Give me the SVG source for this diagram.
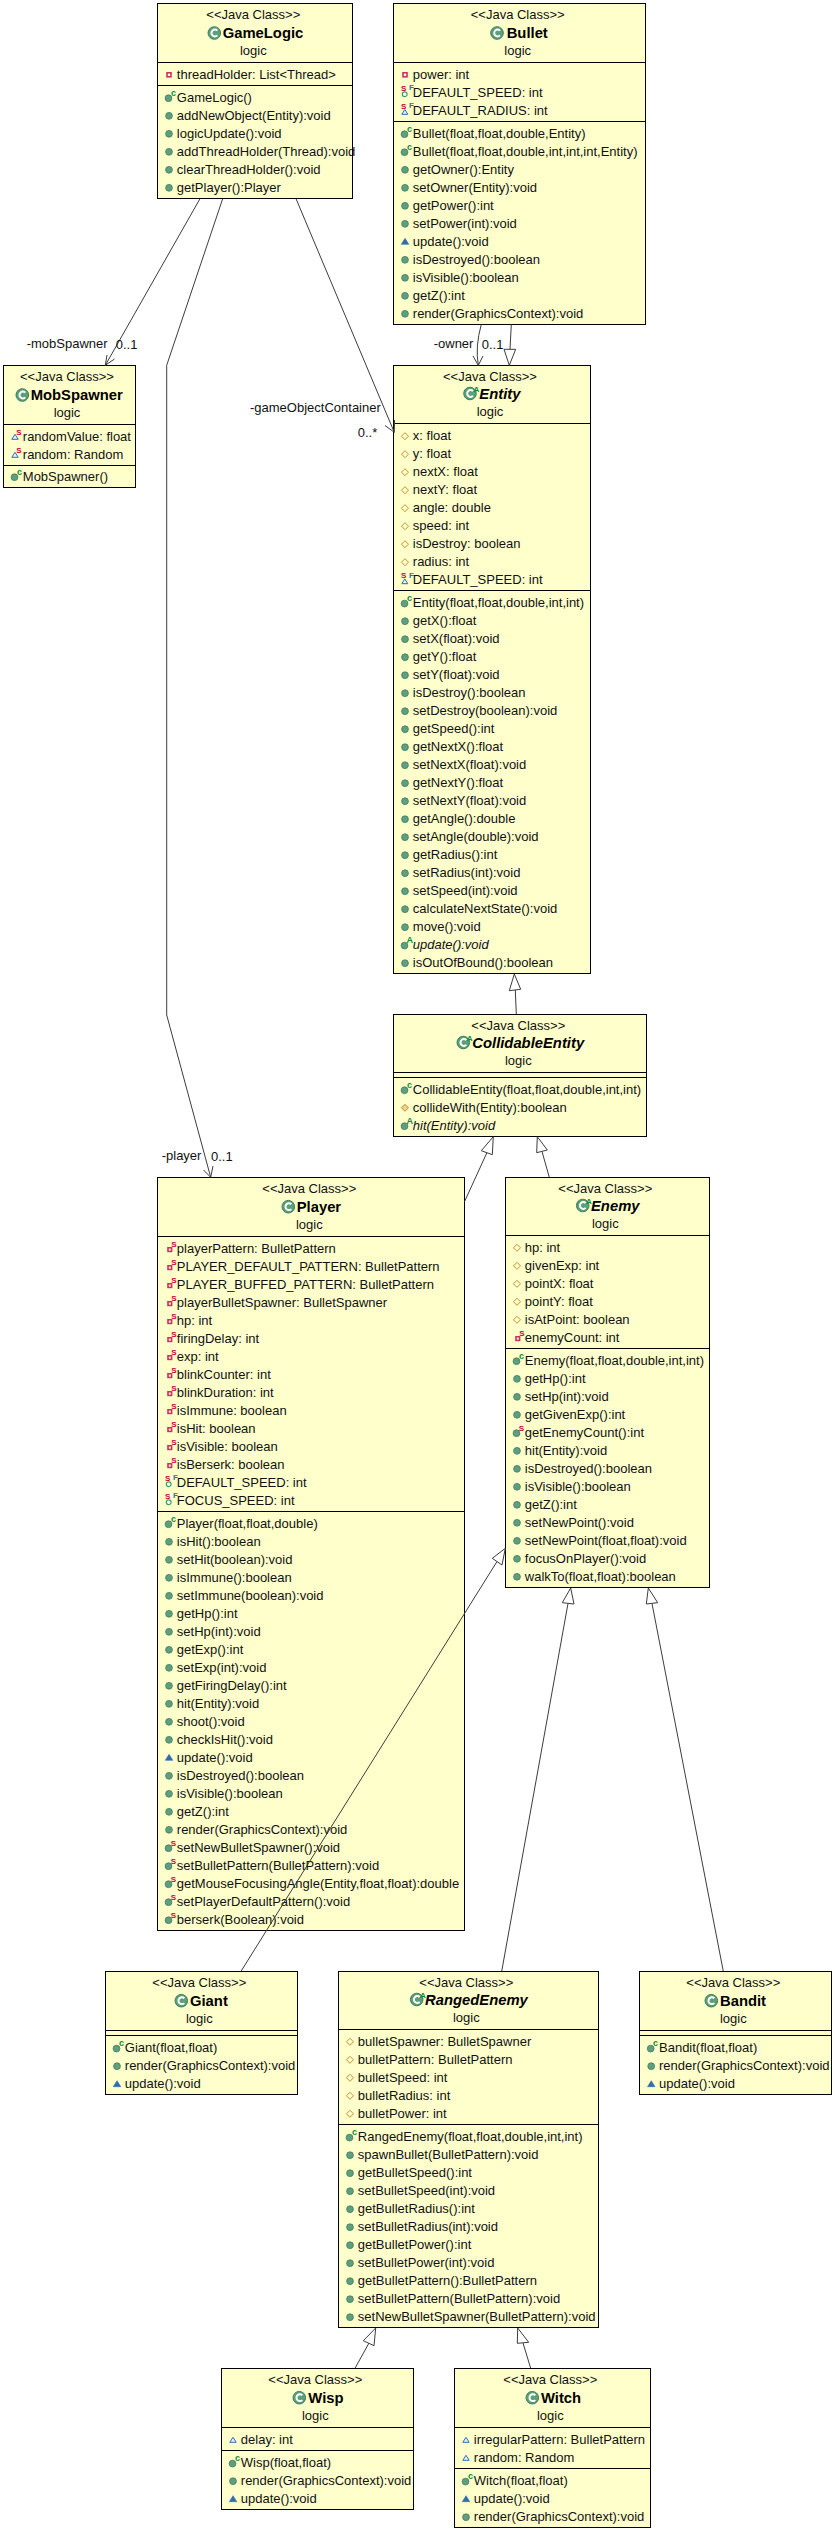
<svg xmlns="http://www.w3.org/2000/svg" width="835" height="2531" viewBox="0 0 835 2531">
<style>
text{font-family:"Liberation Sans",Arial,sans-serif;font-size:13px;fill:#111}
.c{text-anchor:middle}
.t{font-weight:bold;font-size:14.8px;fill:#000}
.a{font-style:italic}
.i{font-weight:bold;font-style:italic}
.box{fill:#ffffcc;stroke:#000;stroke-width:1}
.div{stroke:#000;stroke-width:1;fill:none}
.edge{fill:none;stroke:#3c3c3c;stroke-width:1}
.hd{fill:#fff;stroke:#3c3c3c;stroke-width:1}
.s{font-size:8px;fill:#c8003c;font-weight:bold}
.f{font-size:8px;fill:#3070b0;font-weight:bold}
.k{font-size:9px;fill:#0a8a3c;font-weight:bold}
.m{fill:#5f9f7f;stroke:#3f7f5f;stroke-width:.8}
.pr{fill:#fff;stroke:#d0305a;stroke-width:1.6}
.pt{fill:none;stroke:#c09030;stroke-width:1}
.pk{fill:#e8f0ff;stroke:#2f6cb0;stroke-width:1}
.pm{fill:#2f6cb0;stroke:#2f6cb0;stroke-width:.6}
.cg{fill:#5c9f78;stroke:#3f7f5f}
.cw{fill:none;stroke:#fff;stroke-width:2}
</style>
<defs>
<g id="pub"><circle class="m" cx="11.7" cy="-4" r="3.4"/></g>
<g id="ctor"><circle class="m" cx="11.2" cy="-3.6" r="3.4"/><text class="k" x="13.6" y="-6">c</text></g>
<g id="smeth"><circle class="m" cx="11.2" cy="-3.6" r="3.4"/><text class="s" x="13.4" y="-6" style="fill:#c8003c">S</text></g>
<g id="ameth"><circle class="m" cx="11.2" cy="-3.6" r="3.4"/><text class="k" x="13.2" y="-6">A</text></g>
<g id="pkm"><path class="pm" d="M8 -1.5h7.5l-3.75 -6z"/></g>
<g id="pri"><rect class="pr" x="9.7" y="-6" width="4" height="4"/></g>
<g id="spri"><rect class="pr" x="10.7" y="-5" width="3.6" height="3.6"/><text class="s" x="14" y="-6">S</text></g>
<g id="pro"><path class="pt" d="M11.7 -7.5l3.5 3.5-3.5 3.5-3.5-3.5z"/></g>
<g id="prom"><path d="M11.7 -7.5l3.5 3.5-3.5 3.5-3.5-3.5z" fill="#f0d090" stroke="#c09030"/></g>
<g id="pk"><path class="pk" d="M8.5 -1.5h6.4l-3.2 -5z"/></g>
<g id="spk"><path class="pk" d="M8.5 -1.5h6.4l-3.2 -5z"/><text class="s" x="13" y="-6">S</text></g>
<g id="sfp"><circle cx="11.4" cy="-2.6" r="2.4" fill="#fff" stroke="#3f9f5f" stroke-width="1.2"/><text class="s" x="7.6" y="-6">S</text><text class="f" x="15.6" y="-6.5">F</text></g>
<g id="sfk"><path class="pk" d="M8.5 -.5h6l-3 -4.8z"/><text class="s" x="7.6" y="-6">S</text><text class="f" x="15.6" y="-6.5">F</text></g>
<g id="cls"><circle class="cg" r="6.3"/><path class="cw" d="M3 -2.4A3.4 3.4 0 1 0 3 2.4"/></g>
<g id="acls"><circle class="cg" r="6.3"/><path class="cw" d="M3 -2.4A3.4 3.4 0 1 0 3 2.4"/><text class="k" x="3.4" y="-1.5" style="font-size:8px">A</text></g>
</defs>

<g id="GameLogic">
<rect class="box" x="157.5" y="3.5" width="195" height="195"/>
<path class="div" d="M157.5 62.5H352.5M157.5 85.5H352.5"/>
<text class="c" x="253.3" y="19">&lt;&lt;Java Class&gt;&gt;</text>
<use href="#cls" x="214.3" y="33"/><text class="t" x="222.7" y="38">GameLogic</text>
<text class="c" x="253.3" y="55">logic</text>
<g transform="translate(157.3,78.8)"><use href="#pri"/><text x="19.5">threadHolder: List&lt;Thread&gt;</text></g>
<g transform="translate(157.3,101.8)">
<use href="#ctor"/><text x="19.5">GameLogic()</text>
<use href="#pub" y="18"/><text x="19.5" y="18">addNewObject(Entity):void</text>
<use href="#pub" y="36"/><text x="19.5" y="36">logicUpdate():void</text>
<use href="#pub" y="54"/><text x="19.5" y="54">addThreadHolder(Thread):void</text>
<use href="#pub" y="72"/><text x="19.5" y="72">clearThreadHolder():void</text>
<use href="#pub" y="90"/><text x="19.5" y="90">getPlayer():Player</text>
</g>
</g>

<g id="Bullet">
<rect class="box" x="393.5" y="3.5" width="252" height="321"/>
<path class="div" d="M393.5 62.5H645.5M393.5 121.5H645.5"/>
<text class="c" x="517.7" y="19">&lt;&lt;Java Class&gt;&gt;</text>
<use href="#cls" x="497" y="33"/><text class="t" x="506.7" y="38">Bullet</text>
<text class="c" x="517.7" y="55">logic</text>
<g transform="translate(393.3,78.8)">
<use href="#pri"/><text x="19.5">power: int</text>
<use href="#sfp" y="18"/><text x="19.5" y="18">DEFAULT_SPEED: int</text>
<use href="#sfk" y="36"/><text x="19.5" y="36">DEFAULT_RADIUS: int</text>
</g>
<g transform="translate(393.3,137.8)">
<use href="#ctor"/><text x="19.5">Bullet(float,float,double,Entity)</text>
<use href="#ctor" y="18"/><text x="19.5" y="18">Bullet(float,float,double,int,int,int,Entity)</text>
<use href="#pub" y="36"/><text x="19.5" y="36">getOwner():Entity</text>
<use href="#pub" y="54"/><text x="19.5" y="54">setOwner(Entity):void</text>
<use href="#pub" y="72"/><text x="19.5" y="72">getPower():int</text>
<use href="#pub" y="90"/><text x="19.5" y="90">setPower(int):void</text>
<use href="#pkm" y="108"/><text x="19.5" y="108">update():void</text>
<use href="#pub" y="126"/><text x="19.5" y="126">isDestroyed():boolean</text>
<use href="#pub" y="144"/><text x="19.5" y="144">isVisible():boolean</text>
<use href="#pub" y="162"/><text x="19.5" y="162">getZ():int</text>
<use href="#pub" y="180"/><text x="19.5" y="180">render(GraphicsContext):void</text>
</g>
</g>

<g id="MobSpawner">
<rect class="box" x="3.5" y="365.5" width="132" height="122"/>
<path class="div" d="M3.5 424.5H135.5M3.5 465.5H135.5"/>
<text class="c" x="67" y="381">&lt;&lt;Java Class&gt;&gt;</text>
<use href="#cls" x="22.3" y="395"/><text class="t" x="30.7" y="400">MobSpawner</text>
<text class="c" x="67" y="417">logic</text>
<g transform="translate(3.3,440.8)">
<use href="#spk"/><text x="19.5">randomValue: float</text>
<use href="#spk" y="18"/><text x="19.5" y="18">random: Random</text>
</g>
<g transform="translate(3.3,480.8)"><use href="#ctor"/><text x="19.5">MobSpawner()</text></g>
</g>

<g id="Entity">
<rect class="box" x="393.5" y="365.5" width="197" height="608"/>
<path class="div" d="M393.5 423.5H590.5M393.5 590.5H590.5"/>
<text class="c" x="490" y="381">&lt;&lt;Java Class&gt;&gt;</text>
<use href="#acls" x="470" y="393.5"/><text class="i t" x="479.3" y="398.5">Entity</text>
<text class="c" x="490" y="416">logic</text>
<g transform="translate(393.3,440.2)">
<use href="#pro"/><text x="19.5">x: float</text>
<use href="#pro" y="18"/><text x="19.5" y="18">y: float</text>
<use href="#pro" y="36"/><text x="19.5" y="36">nextX: float</text>
<use href="#pro" y="54"/><text x="19.5" y="54">nextY: float</text>
<use href="#pro" y="72"/><text x="19.5" y="72">angle: double</text>
<use href="#pro" y="90"/><text x="19.5" y="90">speed: int</text>
<use href="#pro" y="108"/><text x="19.5" y="108">isDestroy: boolean</text>
<use href="#pro" y="126"/><text x="19.5" y="126">radius: int</text>
<use href="#sfk" y="144"/><text x="19.5" y="144">DEFAULT_SPEED: int</text>
</g>
<g transform="translate(393.3,607.2)">
<use href="#ctor"/><text x="19.5">Entity(float,float,double,int,int)</text>
<use href="#pub" y="18"/><text x="19.5" y="18">getX():float</text>
<use href="#pub" y="36"/><text x="19.5" y="36">setX(float):void</text>
<use href="#pub" y="54"/><text x="19.5" y="54">getY():float</text>
<use href="#pub" y="72"/><text x="19.5" y="72">setY(float):void</text>
<use href="#pub" y="90"/><text x="19.5" y="90">isDestroy():boolean</text>
<use href="#pub" y="108"/><text x="19.5" y="108">setDestroy(boolean):void</text>
<use href="#pub" y="126"/><text x="19.5" y="126">getSpeed():int</text>
<use href="#pub" y="144"/><text x="19.5" y="144">getNextX():float</text>
<use href="#pub" y="162"/><text x="19.5" y="162">setNextX(float):void</text>
<use href="#pub" y="180"/><text x="19.5" y="180">getNextY():float</text>
<use href="#pub" y="198"/><text x="19.5" y="198">setNextY(float):void</text>
<use href="#pub" y="216"/><text x="19.5" y="216">getAngle():double</text>
<use href="#pub" y="234"/><text x="19.5" y="234">setAngle(double):void</text>
<use href="#pub" y="252"/><text x="19.5" y="252">getRadius():int</text>
<use href="#pub" y="270"/><text x="19.5" y="270">setRadius(int):void</text>
<use href="#pub" y="288"/><text x="19.5" y="288">setSpeed(int):void</text>
<use href="#pub" y="306"/><text x="19.5" y="306">calculateNextState():void</text>
<use href="#pub" y="324"/><text x="19.5" y="324">move():void</text>
<use href="#ameth" y="342"/><text class="a" x="19.5" y="342">update():void</text>
<use href="#pub" y="360"/><text x="19.5" y="360">isOutOfBound():boolean</text>
</g>
</g>

<g id="CollidableEntity">
<rect class="box" x="393.5" y="1014.5" width="253" height="122"/>
<path class="div" d="M393.5 1072.5H646.5M393.5 1077.5H646.5"/>
<text class="c" x="518.3" y="1030">&lt;&lt;Java Class&gt;&gt;</text>
<use href="#acls" x="463.3" y="1042.5"/><text class="i t" x="472.3" y="1047.5">CollidableEntity</text>
<text class="c" x="518.3" y="1065">logic</text>
<g transform="translate(393.3,1093.8)">
<use href="#ctor"/><text x="19.5">CollidableEntity(float,float,double,int,int)</text>
<use href="#prom" y="18"/><text x="19.5" y="18">collideWith(Entity):boolean</text>
<use href="#ameth" y="36"/><text class="a" x="19.5" y="36">hit(Entity):void</text>
</g>
</g>

<g id="Player">
<rect class="box" x="157.5" y="1177.5" width="307" height="753"/>
<path class="div" d="M157.5 1236.5H464.5M157.5 1511.5H464.5"/>
<text class="c" x="309.3" y="1193">&lt;&lt;Java Class&gt;&gt;</text>
<use href="#cls" x="288.3" y="1206.7"/><text class="t" x="296.7" y="1212">Player</text>
<text class="c" x="309.3" y="1229">logic</text>
<g transform="translate(157.3,1252.8)">
<use href="#spri"/><text x="19.5">playerPattern: BulletPattern</text>
<use href="#spri" y="18"/><text x="19.5" y="18">PLAYER_DEFAULT_PATTERN: BulletPattern</text>
<use href="#spri" y="36"/><text x="19.5" y="36">PLAYER_BUFFED_PATTERN: BulletPattern</text>
<use href="#spri" y="54"/><text x="19.5" y="54">playerBulletSpawner: BulletSpawner</text>
<use href="#spri" y="72"/><text x="19.5" y="72">hp: int</text>
<use href="#spri" y="90"/><text x="19.5" y="90">firingDelay: int</text>
<use href="#spri" y="108"/><text x="19.5" y="108">exp: int</text>
<use href="#spri" y="126"/><text x="19.5" y="126">blinkCounter: int</text>
<use href="#spri" y="144"/><text x="19.5" y="144">blinkDuration: int</text>
<use href="#spri" y="162"/><text x="19.5" y="162">isImmune: boolean</text>
<use href="#spri" y="180"/><text x="19.5" y="180">isHit: boolean</text>
<use href="#spri" y="198"/><text x="19.5" y="198">isVisible: boolean</text>
<use href="#spri" y="216"/><text x="19.5" y="216">isBerserk: boolean</text>
<use href="#sfp" y="234"/><text x="19.5" y="234">DEFAULT_SPEED: int</text>
<use href="#sfp" y="252"/><text x="19.5" y="252">FOCUS_SPEED: int</text>
</g>
<g transform="translate(157.3,1527.8)">
<use href="#ctor"/><text x="19.5">Player(float,float,double)</text>
<use href="#pub" y="18"/><text x="19.5" y="18">isHit():boolean</text>
<use href="#pub" y="36"/><text x="19.5" y="36">setHit(boolean):void</text>
<use href="#pub" y="54"/><text x="19.5" y="54">isImmune():boolean</text>
<use href="#pub" y="72"/><text x="19.5" y="72">setImmune(boolean):void</text>
<use href="#pub" y="90"/><text x="19.5" y="90">getHp():int</text>
<use href="#pub" y="108"/><text x="19.5" y="108">setHp(int):void</text>
<use href="#pub" y="126"/><text x="19.5" y="126">getExp():int</text>
<use href="#pub" y="144"/><text x="19.5" y="144">setExp(int):void</text>
<use href="#pub" y="162"/><text x="19.5" y="162">getFiringDelay():int</text>
<use href="#pub" y="180"/><text x="19.5" y="180">hit(Entity):void</text>
<use href="#pub" y="198"/><text x="19.5" y="198">shoot():void</text>
<use href="#pub" y="216"/><text x="19.5" y="216">checkIsHit():void</text>
<use href="#pkm" y="234"/><text x="19.5" y="234">update():void</text>
<use href="#pub" y="252"/><text x="19.5" y="252">isDestroyed():boolean</text>
<use href="#pub" y="270"/><text x="19.5" y="270">isVisible():boolean</text>
<use href="#pub" y="288"/><text x="19.5" y="288">getZ():int</text>
<use href="#pub" y="306"/><text x="19.5" y="306">render(GraphicsContext):void</text>
<use href="#smeth" y="324"/><text x="19.5" y="324">setNewBulletSpawner():void</text>
<use href="#smeth" y="342"/><text x="19.5" y="342">setBulletPattern(BulletPattern):void</text>
<use href="#smeth" y="360"/><text x="19.5" y="360">getMouseFocusingAngle(Entity,float,float):double</text>
<use href="#smeth" y="378"/><text x="19.5" y="378">setPlayerDefaultPattern():void</text>
<use href="#smeth" y="396"/><text x="19.5" y="396">berserk(Boolean):void</text>
</g>
</g>

<g id="Enemy">
<rect class="box" x="505.5" y="1177.5" width="204" height="410"/>
<path class="div" d="M505.5 1235.5H709.5M505.5 1348.5H709.5"/>
<text class="c" x="605.3" y="1193">&lt;&lt;Java Class&gt;&gt;</text>
<use href="#acls" x="582.7" y="1205.5"/><text class="i t" x="591" y="1210.5">Enemy</text>
<text class="c" x="605.3" y="1228">logic</text>
<g transform="translate(505.3,1251.8)">
<use href="#pro"/><text x="19.5">hp: int</text>
<use href="#pro" y="18"/><text x="19.5" y="18">givenExp: int</text>
<use href="#pro" y="36"/><text x="19.5" y="36">pointX: float</text>
<use href="#pro" y="54"/><text x="19.5" y="54">pointY: float</text>
<use href="#pro" y="72"/><text x="19.5" y="72">isAtPoint: boolean</text>
<use href="#spri" y="90"/><text x="19.5" y="90">enemyCount: int</text>
</g>
<g transform="translate(505.3,1364.8)">
<use href="#ctor"/><text x="19.5">Enemy(float,float,double,int,int)</text>
<use href="#pub" y="18"/><text x="19.5" y="18">getHp():int</text>
<use href="#pub" y="36"/><text x="19.5" y="36">setHp(int):void</text>
<use href="#pub" y="54"/><text x="19.5" y="54">getGivenExp():int</text>
<use href="#smeth" y="72"/><text x="19.5" y="72">getEnemyCount():int</text>
<use href="#pub" y="90"/><text x="19.5" y="90">hit(Entity):void</text>
<use href="#pub" y="108"/><text x="19.5" y="108">isDestroyed():boolean</text>
<use href="#pub" y="126"/><text x="19.5" y="126">isVisible():boolean</text>
<use href="#pub" y="144"/><text x="19.5" y="144">getZ():int</text>
<use href="#pub" y="162"/><text x="19.5" y="162">setNewPoint():void</text>
<use href="#pub" y="180"/><text x="19.5" y="180">setNewPoint(float,float):void</text>
<use href="#pub" y="198"/><text x="19.5" y="198">focusOnPlayer():void</text>
<use href="#pub" y="216"/><text x="19.5" y="216">walkTo(float,float):boolean</text>
</g>
</g>

<g id="Giant">
<rect class="box" x="105.5" y="1971.5" width="192" height="123"/>
<path class="div" d="M105.5 2030.5H297.5M105.5 2035.5H297.5"/>
<text class="c" x="199.3" y="1987">&lt;&lt;Java Class&gt;&gt;</text>
<use href="#cls" x="181.3" y="2000.7"/><text class="t" x="190" y="2006">Giant</text>
<text class="c" x="199.3" y="2023">logic</text>
<g transform="translate(105.3,2052.2)">
<use href="#ctor"/><text x="19.5">Giant(float,float)</text>
<use href="#pub" y="18"/><text x="19.5" y="18">render(GraphicsContext):void</text>
<use href="#pkm" y="36"/><text x="19.5" y="36">update():void</text>
</g>
</g>

<g id="RangedEnemy">
<rect class="box" x="338.5" y="1971.5" width="260" height="356"/>
<path class="div" d="M338.5 2029.5H598.5M338.5 2124.5H598.5"/>
<text class="c" x="466.3" y="1987">&lt;&lt;Java Class&gt;&gt;</text>
<use href="#acls" x="416.7" y="1999.5"/><text class="i t" x="425" y="2004.5">RangedEnemy</text>
<text class="c" x="466.3" y="2022">logic</text>
<g transform="translate(338.3,2045.8)">
<use href="#pro"/><text x="19.5">bulletSpawner: BulletSpawner</text>
<use href="#pro" y="18"/><text x="19.5" y="18">bulletPattern: BulletPattern</text>
<use href="#pro" y="36"/><text x="19.5" y="36">bulletSpeed: int</text>
<use href="#pro" y="54"/><text x="19.5" y="54">bulletRadius: int</text>
<use href="#pro" y="72"/><text x="19.5" y="72">bulletPower: int</text>
</g>
<g transform="translate(338.3,2141.2)">
<use href="#ctor"/><text x="19.5">RangedEnemy(float,float,double,int,int)</text>
<use href="#pub" y="18"/><text x="19.5" y="18">spawnBullet(BulletPattern):void</text>
<use href="#pub" y="36"/><text x="19.5" y="36">getBulletSpeed():int</text>
<use href="#pub" y="54"/><text x="19.5" y="54">setBulletSpeed(int):void</text>
<use href="#pub" y="72"/><text x="19.5" y="72">getBulletRadius():int</text>
<use href="#pub" y="90"/><text x="19.5" y="90">setBulletRadius(int):void</text>
<use href="#pub" y="108"/><text x="19.5" y="108">getBulletPower():int</text>
<use href="#pub" y="126"/><text x="19.5" y="126">setBulletPower(int):void</text>
<use href="#pub" y="144"/><text x="19.5" y="144">getBulletPattern():BulletPattern</text>
<use href="#pub" y="162"/><text x="19.5" y="162">setBulletPattern(BulletPattern):void</text>
<use href="#pub" y="180"/><text x="19.5" y="180">setNewBulletSpawner(BulletPattern):void</text>
</g>
</g>

<g id="Bandit">
<rect class="box" x="639.5" y="1971.5" width="192" height="123"/>
<path class="div" d="M639.5 2030.5H831.5M639.5 2035.5H831.5"/>
<text class="c" x="733.3" y="1987">&lt;&lt;Java Class&gt;&gt;</text>
<use href="#cls" x="711.3" y="2000.7"/><text class="t" x="720" y="2006">Bandit</text>
<text class="c" x="733.3" y="2023">logic</text>
<g transform="translate(639.5,2052.2)">
<use href="#ctor"/><text x="19.5">Bandit(float,float)</text>
<use href="#pub" y="18"/><text x="19.5" y="18">render(GraphicsContext):void</text>
<use href="#pkm" y="36"/><text x="19.5" y="36">update():void</text>
</g>
</g>

<g id="Wisp">
<rect class="box" x="221.5" y="2368.5" width="192" height="141"/>
<path class="div" d="M221.5 2427.5H413.5M221.5 2450.5H413.5"/>
<text class="c" x="315.3" y="2384">&lt;&lt;Java Class&gt;&gt;</text>
<use href="#cls" x="299.3" y="2397.7"/><text class="t" x="308.3" y="2403">Wisp</text>
<text class="c" x="315.3" y="2420">logic</text>
<g transform="translate(221.3,2443.8)"><use href="#pk"/><text x="19.5">delay: int</text></g>
<g transform="translate(221.3,2467.2)">
<use href="#ctor"/><text x="19.5">Wisp(float,float)</text>
<use href="#pub" y="18"/><text x="19.5" y="18">render(GraphicsContext):void</text>
<use href="#pkm" y="36"/><text x="19.5" y="36">update():void</text>
</g>
</g>

<g id="Witch">
<rect class="box" x="454.5" y="2368.5" width="196" height="159"/>
<path class="div" d="M454.5 2427.5H650.5M454.5 2468.5H650.5"/>
<text class="c" x="550.3" y="2384">&lt;&lt;Java Class&gt;&gt;</text>
<use href="#cls" x="532.3" y="2397.7"/><text class="t" x="541" y="2403">Witch</text>
<text class="c" x="550.3" y="2420">logic</text>
<g transform="translate(454.3,2443.8)">
<use href="#pk"/><text x="19.5">irregularPattern: BulletPattern</text>
<use href="#pk" y="18"/><text x="19.5" y="18">random: Random</text>
</g>
<g transform="translate(454.3,2485.2)">
<use href="#ctor"/><text x="19.5">Witch(float,float)</text>
<use href="#pkm" y="18"/><text x="19.5" y="18">update():void</text>
<use href="#pub" y="36"/><text x="19.5" y="36">render(GraphicsContext):void</text>
</g>
</g>

<g id="connectors">
<path class="edge" d="M200 198.7L105.3 365.3M114.5 359L105.3 365.3L107 355"/>
<path class="edge" d="M222.7 198.7L166.7 365.3V1015L210.7 1177.3M203.5 1170L210.7 1177.3L213 1166"/>
<path class="edge" d="M296 198.7L394.3 432.3M385 425.5L394.3 432.3L394.5 420"/>
<path class="edge" d="M481.3 324.3Q475 347 478.3 365.3M473 356L478.3 365.3L483 356"/>
<path class="edge" d="M511.3 324.3L510 349.5"/><path class="hd" d="M509.3 365.3L504 349.3H515.7z"/>
<path class="edge" d="M516.3 1014.3L515.3 990"/><path class="hd" d="M514.3 974L509.3 990.7L520.7 989.3z"/>
<path class="edge" d="M464.5 1201.7L487 1152.5"/><path class="hd" d="M493.3 1136.7L481.3 1150.7L492.3 1154.7z"/>
<path class="edge" d="M549.3 1177.3L542 1151.5"/><path class="hd" d="M537.3 1136.7L536.7 1152.7L547.3 1150z"/>
<path class="edge" d="M241 1971.3L497 1561.5"/><path class="hd" d="M505.3 1548.3L492.3 1558.3L502 1565z"/>
<path class="edge" d="M501.7 1971.3L568 1603.5"/><path class="hd" d="M570.7 1588L562.3 1602.7L574 1604z"/>
<path class="edge" d="M723.3 1971.3L652 1603.5"/><path class="hd" d="M648.3 1588L646.3 1604L657.7 1602.7z"/>
<path class="edge" d="M355 2368.3L369 2343"/><path class="hd" d="M375.7 2328L363.3 2340.7L374 2345.7z"/>
<path class="edge" d="M530.7 2368.3L523 2343"/><path class="hd" d="M517.7 2328L517.3 2343.3L528.7 2342.3z"/>
<text x="26.7" y="348">-mobSpawner</text><text x="115.7" y="349">0..1</text>
<text x="250" y="412">-gameObjectContainer</text><text x="357.7" y="436.7">0..*</text>
<text x="433.7" y="348">-owner</text><text x="481.7" y="348.7">0..1</text>
<text x="161.7" y="1160">-player</text><text x="211" y="1160.7">0..1</text>
</g>
</svg>
